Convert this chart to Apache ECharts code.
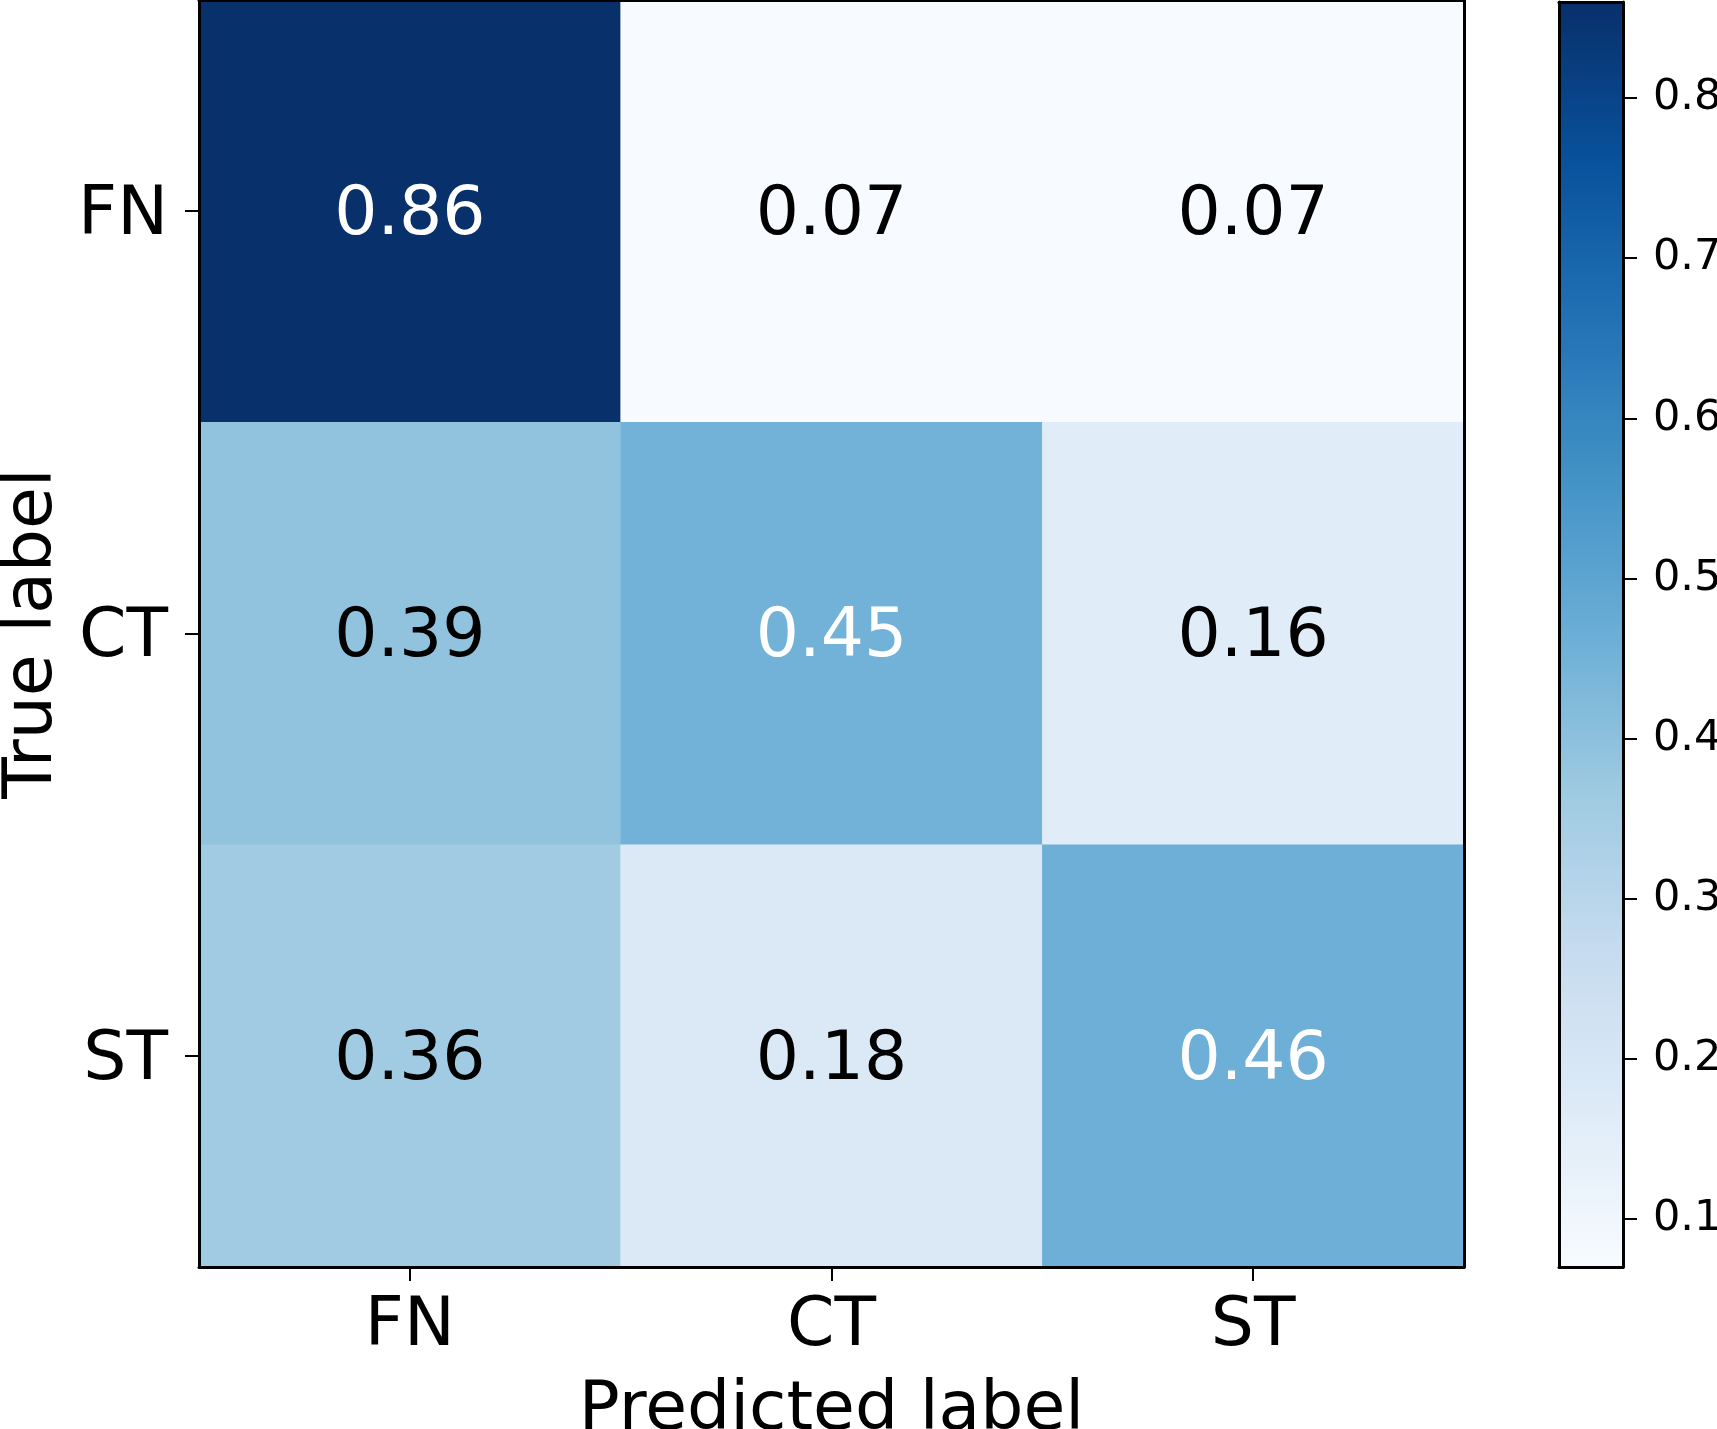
<!DOCTYPE html>
<html>
<head>
<meta charset="utf-8">
<script src="https://cdn.jsdelivr.net/npm/echarts@6/dist/echarts.min.js"></script>
<style>
html,body{margin:0;padding:0;background:#fff;}
#chart{width:1717px;height:1429px;}
</style>
</head>
<body>
<div id="chart"></div>
<script>
// ---- data ----
const predictedLabels = ['FN', 'CT', 'ST'];
const trueLabels = ['FN', 'CT', 'ST'];
const rowFN = [0.86, 0.07, 0.07];
const rowCT = [0.39, 0.45, 0.16];
const rowST = [0.36, 0.18, 0.46];
const colorbarTicks = [0.1, 0.2, 0.3, 0.4, 0.5, 0.6, 0.7, 0.8];
// matplotlib "Blues" colormap stops
const blues = ['#f7fbff', '#deebf7', '#c6dbef', '#9ecae1', '#6baed6', '#4292c6', '#2171b5', '#08519c', '#08306b'];

const rows = [rowFN, rowCT, rowST];
const all = rows.flat();
const vmin = Math.min(...all);
const vmax = Math.max(...all);
const thresh = vmax / 2;

const heatData = [];
rows.forEach((row, i) => {
  row.forEach((v, j) => {
    heatData.push({
      value: [j, i, v],
      label: { color: v > thresh ? '#ffffff' : '#000000' }
    });
  });
});

const FONT = 'DejaVu Sans';
const chart = echarts.init(document.getElementById('chart'), null, { renderer: 'canvas' });

chart.setOption({
  backgroundColor: '#ffffff',
  animation: false,
  grid: [
    { left: 199, top: 0, width: 1265, height: 1267, containLabel: false, outerBoundsMode: 'none' },
    { left: 1559, top: 2, width: 64, height: 1265, containLabel: false, outerBoundsMode: 'none' }
  ],
  visualMap: {
    show: false,
    type: 'continuous',
    min: vmin,
    max: vmax,
    dimension: 2,
    seriesIndex: 0,
    inRange: { color: blues }
  },
  xAxis: [
    {
      gridIndex: 0, type: 'category', data: predictedLabels, position: 'bottom', z: 10,
      axisLine: { show: true, onZero: false, lineStyle: { color: '#000', width: 3 } },
      axisTick: { show: true, alignWithLabel: true, length: 14, lineStyle: { color: '#000', width: 2 } },
      axisLabel: { fontFamily: FONT, fontSize: 68, color: '#000', margin: 26 },
      splitLine: { show: false }, splitArea: { show: false },
      name: 'Predicted label', nameLocation: 'middle', nameGap: 110,
      nameTextStyle: { fontFamily: FONT, fontSize: 68, color: '#000' }
    },
    {
      gridIndex: 0, type: 'category', data: predictedLabels, position: 'top', z: 10,
      axisLine: { show: true, onZero: false, lineStyle: { color: '#000', width: 3 } },
      axisTick: { show: false }, axisLabel: { show: false }, splitLine: { show: false }
    },
    {
      gridIndex: 1, type: 'value', min: 0, max: 1, position: 'bottom', z: 10,
      axisLine: { show: true, onZero: false, lineStyle: { color: '#000', width: 3 } },
      axisTick: { show: false }, axisLabel: { show: false }, splitLine: { show: false }
    },
    {
      gridIndex: 1, type: 'value', min: 0, max: 1, position: 'top', z: 10,
      axisLine: { show: true, onZero: false, lineStyle: { color: '#000', width: 3 } },
      axisTick: { show: false }, axisLabel: { show: false }, splitLine: { show: false }
    }
  ],
  yAxis: [
    {
      gridIndex: 0, type: 'category', data: trueLabels, inverse: true, position: 'left', z: 10,
      axisLine: { show: true, onZero: false, lineStyle: { color: '#000', width: 3 } },
      axisTick: { show: true, alignWithLabel: true, length: 14, lineStyle: { color: '#000', width: 2 } },
      axisLabel: {
        fontFamily: FONT, fontSize: 68, color: '#000', margin: 31,
        formatter: v => '{a|' + v + '}',
        rich: { a: { fontFamily: FONT, fontSize: 68, color: '#000', padding: [10, 0, 0, 0] } }
      },
      splitLine: { show: false }, splitArea: { show: false },
      name: 'True label', nameLocation: 'middle', nameGap: 129,
      nameTextStyle: { fontFamily: FONT, fontSize: 68, color: '#000' }
    },
    {
      gridIndex: 0, type: 'category', data: trueLabels, inverse: true, position: 'right', z: 10,
      axisLine: { show: true, onZero: false, lineStyle: { color: '#000', width: 3 } },
      axisTick: { show: false }, axisLabel: { show: false }, splitLine: { show: false }
    },
    {
      gridIndex: 1, type: 'value', min: vmin, max: vmax, position: 'right', z: 10,
      axisLine: { show: true, onZero: false, lineStyle: { color: '#000', width: 3 } },
      axisTick: { show: true, length: 14, customValues: colorbarTicks, lineStyle: { color: '#000', width: 2 } },
      axisLabel: {
        fontFamily: FONT, fontSize: 43, color: '#000', margin: 30, padding: [4, 0, 0, 0],
        customValues: colorbarTicks,
        formatter: v => String(Math.round(v * 10) / 10)
      },
      splitLine: { show: false }
    },
    {
      gridIndex: 1, type: 'value', min: vmin, max: vmax, position: 'left', z: 10,
      axisLine: { show: true, onZero: false, lineStyle: { color: '#000', width: 3 } },
      axisTick: { show: false }, axisLabel: { show: false }, splitLine: { show: false }
    }
  ],
  series: [
    {
      type: 'heatmap',
      xAxisIndex: 0, yAxisIndex: 0,
      data: heatData,
      label: {
        show: true, fontFamily: FONT, fontSize: 68, offset: [0, 5],
        formatter: p => p.value[2].toFixed(2)
      },
      itemStyle: { borderWidth: 0 },
      emphasis: { disabled: true }
    },
    {
      type: 'custom',
      xAxisIndex: 2, yAxisIndex: 2,
      data: [[0, vmin, 1, vmax]],
      silent: true,
      renderItem: function (params, api) {
        const p0 = api.coord([api.value(0), api.value(3)]);
        const p1 = api.coord([api.value(2), api.value(1)]);
        return {
          type: 'rect',
          shape: { x: p0[0], y: p0[1], width: p1[0] - p0[0], height: p1[1] - p0[1] },
          style: {
            fill: new echarts.graphic.LinearGradient(0, 0, 0, 1,
              blues.map((c, i) => ({ offset: 1 - i / (blues.length - 1), color: c })).reverse())
          }
        };
      }
    }
  ]
});
</script>
</body>
</html>
